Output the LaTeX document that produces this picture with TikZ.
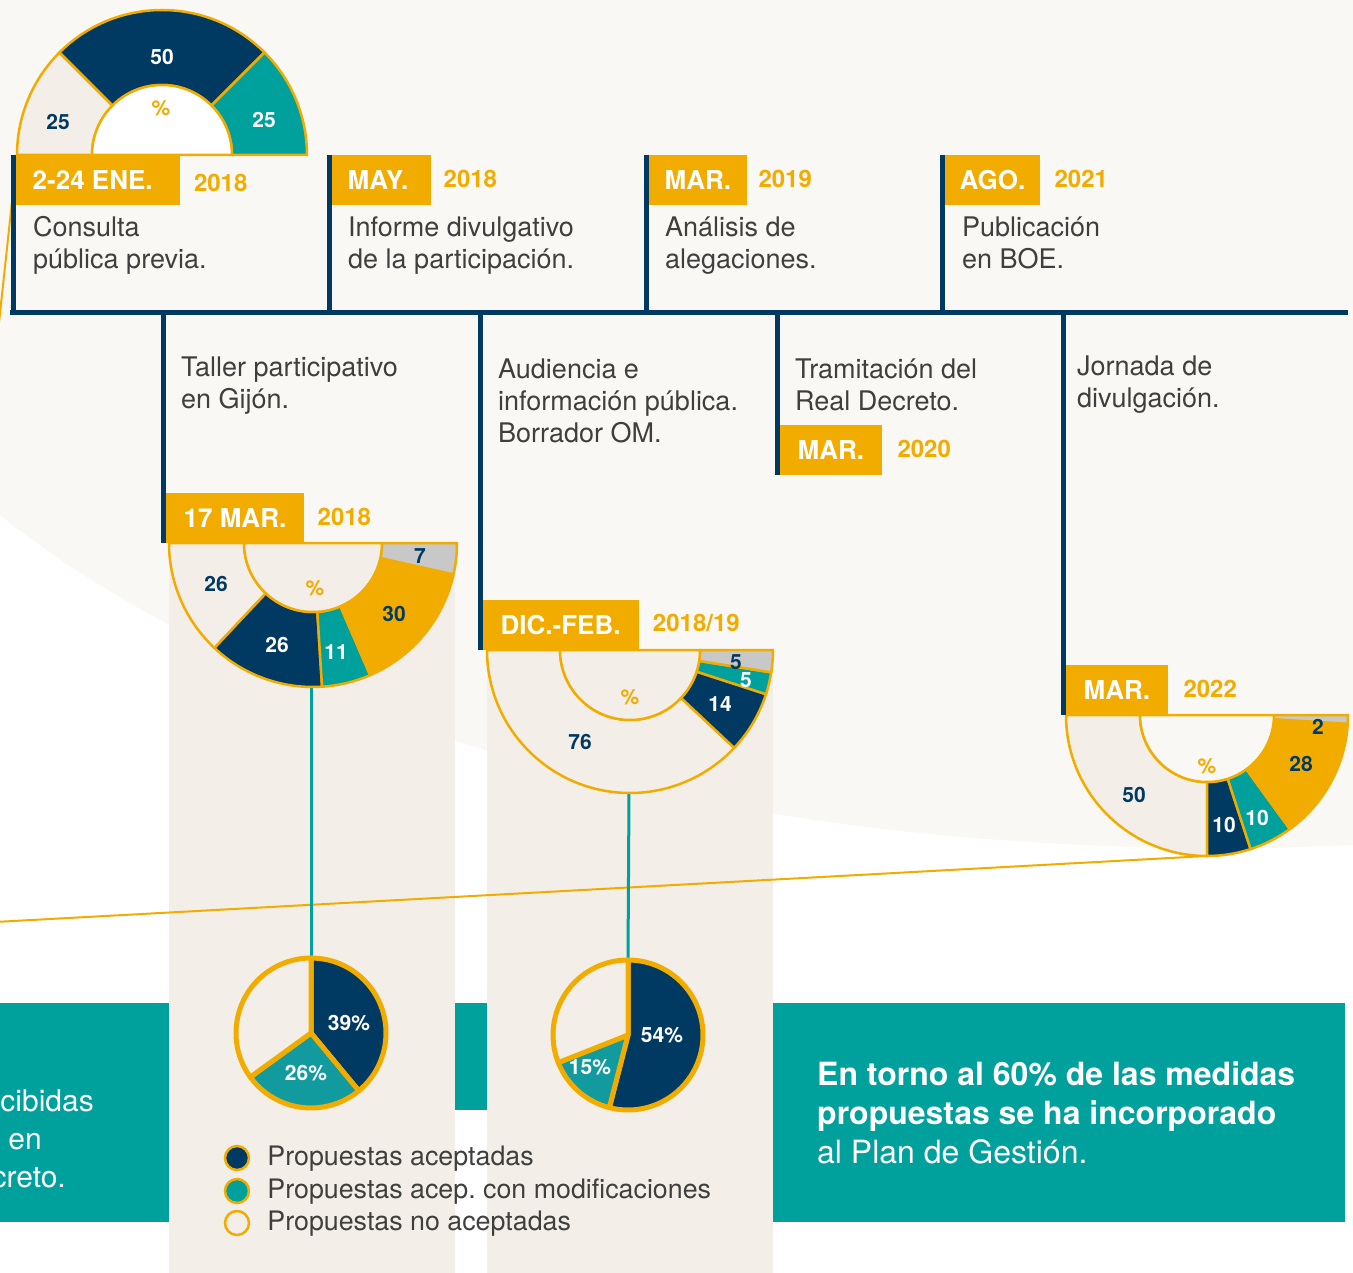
\documentclass[tikz,border=0pt]{standalone}
\usepackage{fontspec}
\setmainfont{TeX Gyre Heros}
\usepackage{tikz}
\usetikzlibrary{calc}
\definecolor{azul}{HTML}{003A63}
\definecolor{turquesa}{HTML}{00A09D}
\definecolor{turquesatarta}{HTML}{129B9F}
\definecolor{amarillo}{HTML}{F2AC00}
\definecolor{crema}{HTML}{F3EFE8}
\definecolor{gris}{HTML}{C8C8C8}
\definecolor{grisoscuro}{HTML}{3F3F3F}
\definecolor{fondo}{HTML}{F9F8F4}
\tikzstyle{fecha}=[rectangle,fill=amarillo,text=white,anchor=north west,
                   font=\fontsize{26}{26}\selectfont\bfseries,
                   inner xsep=18pt,inner ysep=0pt,minimum height=50pt]
\tikzstyle{anio}=[anchor=west,text=amarillo,inner sep=0pt,
                  font=\fontsize{24}{24}\selectfont\bfseries]
\tikzstyle{hito}=[anchor=base west,text=grisoscuro,inner sep=0pt,
                  font=\fontsize{27}{32}\selectfont]
\tikzstyle{eje}=[draw=azul,line width=5pt]
\tikzstyle{anillo}=[draw=amarillo,line width=2.5pt,line join=round]
\tikzstyle{tarta}=[draw=amarillo,line width=5pt,line join=round]
\tikzstyle{cifra}=[inner sep=0pt,font=\fontsize{21}{21}\selectfont\bfseries]
\tikzstyle{leyenda}=[anchor=west,text=grisoscuro,inner sep=0pt,
                     font=\fontsize{26.8}{26.8}\selectfont]
\tikzstyle{punto}=[circle,draw=amarillo,line width=2.5pt,minimum size=24pt,inner sep=0pt]
\tikzstyle{recuadro}=[text=white,inner sep=0pt,font=\fontsize{30}{38}\selectfont]
\newcommand\rotulo[2][14em]{\parbox[t]{#1}{\raggedright #2}}
\newcommand\segmento[6]{\filldraw[anillo,fill=#6] ($(#1)+(#4:#3)$)
    arc[start angle=#4,end angle=#5,radius=#3] -- ($(#1)+(#5:#2)$)
    arc[start angle=#5,end angle=#4,radius=#2] -- cycle;}
\newcommand\porcion[5]{\filldraw[tarta,fill=#5] (#1) -- ($(#1)+(#3:#2)$)
    arc[start angle=#3,end angle=#4,radius=#2] -- cycle;}

\begin{document}
\begin{tikzpicture}[x=1pt,y=-1pt]
	\useasboundingbox (0,0) rectangle (1353,1273);
	\fill[white] (0,0) rectangle (1353,1273);
	\fill[fondo] (0,0) -- (0,515) .. controls (280,740) and (800,870) .. (1353,845) -- (1353,0) -- cycle;
	\fill[turquesa] (0,1003) rectangle (169,1222);
	\fill[turquesa] (455,1003) rectangle (487,1110);
	\fill[turquesa] (773,1003) rectangle (1345,1222);
	\fill[crema] (169,543) rectangle (455,1273);
	\fill[crema] (487,650) rectangle (773,1273);

	\coordinate (g1) at (162,155);
	\coordinate (g2) at (313,543);
	\coordinate (g3) at (630,650);
	\coordinate (g4) at (1207,715);
	\node [circle,minimum size=150pt,inner sep=0pt] (t1) at (311,1033) {};
	\node [circle,minimum size=150pt,inner sep=0pt] (t2) at (628,1035) {};

	\coordinate (g1oeste) at ($(g1)+(180:145)$);
	\coordinate (finsup) at (-2,332);
	\coordinate (g4sur) at ($(g4)+(90:141)$);
	\coordinate (fininf) at (-5,922);
	\draw [amarillo,line width=2pt] (g1oeste) -- (finsup);
	\draw [amarillo,line width=2pt] (g4sur) -- (fininf);

	\coordinate (g2sur) at (311,688);
	\coordinate (g3sur) at (629,793);
	\draw [turquesa,line width=3pt] (g2sur) -- (t1.north);
	\draw [turquesa,line width=3pt] (g3sur) -- (t2.north);

	\segmento{g1}{70}{145}{180}{225}{crema}
	\segmento{g1}{70}{145}{225}{315}{azul}
	\segmento{g1}{70}{145}{315}{360}{turquesa}
	\filldraw [anillo,fill=white] ($(g1)+(180:70)$) arc[start angle=180,end angle=360,radius=70] -- cycle;

	\segmento{g2}{69}{144}{180}{133.2}{crema}
	\segmento{g2}{69}{144}{133.2}{86.4}{azul}
	\segmento{g2}{69}{144}{86.4}{66.6}{turquesa}
	\segmento{g2}{69}{144}{66.6}{12.6}{amarillo}
	\segmento{g2}{69}{144}{12.6}{0}{gris}
	\filldraw [anillo,fill=crema] ($(g2)+(180:69)$) arc[start angle=180,end angle=0,radius=69] -- cycle;

	\segmento{g3}{70}{143}{180}{43.2}{crema}
	\segmento{g3}{70}{143}{43.2}{18}{azul}
	\segmento{g3}{70}{143}{18}{9}{turquesa}
	\segmento{g3}{70}{143}{9}{0}{gris}
	\filldraw [anillo,fill=crema] ($(g3)+(180:70)$) arc[start angle=180,end angle=0,radius=70] -- cycle;

	\segmento{g4}{67}{141}{180}{90}{crema}
	\segmento{g4}{67}{141}{90}{72}{azul}
	\segmento{g4}{67}{141}{72}{54}{turquesa}
	\segmento{g4}{67}{141}{54}{3.6}{amarillo}
	\segmento{g4}{67}{141}{3.6}{0}{gris}
	\filldraw [anillo,fill=fondo] ($(g4)+(180:67)$) arc[start angle=180,end angle=0,radius=67] -- cycle;

	\porcion{t1.center}{75}{-90}{50.4}{azul}
	\porcion{t1.center}{75}{50.4}{144}{turquesatarta}
	\porcion{t1.center}{75}{144}{270}{crema}
	\porcion{t2.center}{75}{-90}{104.4}{azul}
	\porcion{t2.center}{75}{104.4}{158.4}{turquesatarta}
	\porcion{t2.center}{75}{158.4}{270}{crema}

	\node [cifra,text=azul] (g1a) at (58,122) {25};
	\node [cifra,text=white] (g1b) at (162,57) {50};
	\node [cifra,text=white] (g1c) at (264,120) {25};
	\node [cifra,text=amarillo] (g1p) at (161,108) {\%};
	\node [cifra,text=azul] (g2a) at (216,584) {26};
	\node [cifra,text=white] (g2b) at (277,645) {26};
	\node [cifra,text=white] (g2c) at (336,652) {11};
	\node [cifra,text=azul] (g2d) at (394,614) {30};
	\node [cifra,text=azul] (g2e) at (420,556) {7};
	\node [cifra,text=amarillo] (g2p) at (315,588) {\%};
	\node [cifra,text=azul] (g3a) at (580,742) {76};
	\node [cifra,text=white] (g3b) at (720,704) {14};
	\node [cifra,text=white] (g3c) at (746,680) {5};
	\node [cifra,text=azul] (g3d) at (736,662) {5};
	\node [cifra,text=amarillo] (g3p) at (630,697) {\%};
	\node [cifra,text=azul] (g4a) at (1134,795) {50};
	\node [cifra,text=white] (g4b) at (1224,825) {10};
	\node [cifra,text=white] (g4c) at (1257,818) {10};
	\node [cifra,text=azul] (g4d) at (1301,764) {28};
	\node [cifra,text=azul] (g4e) at (1318,727) {2};
	\node [cifra,text=amarillo] (g4p) at (1207,766) {\%};
	\node [cifra,text=white] (t1a) at (349,1023) {39\%};
	\node [cifra,text=white] (t1b) at (306,1073) {26\%};
	\node [cifra,text=white] (t2a) at (662,1035) {54\%};
	\node [cifra,text=white] (t2b) at (590,1067) {15\%};

	\coordinate (ejeoeste) at (10,313);
	\coordinate (ejeeste) at (1348,313);
	\coordinate (p1) at (13,155);
	\coordinate (p2) at (329,155);
	\coordinate (p3) at (646,155);
	\coordinate (p4) at (942,155);
	\coordinate (q1) at (163,543);
	\coordinate (q2) at (480,650);
	\coordinate (q3) at (777,475);
	\coordinate (q4) at (1063,715);
	\draw [eje] (ejeoeste) -- (ejeeste);
	\foreach \p in {p1,p2,p3,p4,q1,q2,q3,q4}
		\draw [eje] (\p) -- (\p |- ejeoeste);

	\node [fecha,inner xsep=17pt] (f1) at ($(p1)+(2.5,0)$) {2-24 ENE.\hspace*{10pt}};
	\node [fecha,inner xsep=16pt] (f2) at ($(p2)+(2.5,0)$) {MAY.\hspace*{7pt}};
	\node [fecha,inner xsep=16pt] (f3) at ($(p3)+(2.5,0)$) {MAR.};
	\node [fecha,inner xsep=15pt] (f4) at ($(p4)+(2.5,0)$) {AGO.};
	\node [fecha,anchor=south west] (f5) at ($(q1)+(2.5,0)$) {17 MAR.};
	\node [fecha,anchor=south west] (f6) at ($(q2)+(2.5,0)$) {DIC.-FEB.};
	\node [fecha,anchor=south west] (f7) at ($(q3)+(2.5,0)$) {MAR.};
	\node [fecha,anchor=south west] (f8) at ($(q4)+(2.5,0)$) {MAR.};
	\node [anio] (a1) at ($(f1.east)+(14,3)$) {2018};
	\node [anio] (a2) at ($(f2.east)+(12,-1)$) {2018};
	\node [anio] (a3) at ($(f3.east)+(11,-1)$) {2019};
	\node [anio] (a4) at ($(f4.east)+(14,-1)$) {2021};
	\node [anio] (a5) at ($(f5.east)+(13,-1)$) {2018};
	\node [anio] (a6) at ($(f6.east)+(14,-2)$) {2018/19};
	\node [anio] (a7) at ($(f7.east)+(15,-1)$) {2020};
	\node [anio] (a8) at ($(f8.east)+(15,-1)$) {2022};

	\node [hito] (d1) at (33,237) {\rotulo{Consulta\\pública previa.}};
	\node [hito] (d2) at (348,237) {\rotulo{Informe divulgativo\\de la participación.}};
	\node [hito] (d3) at (665,237) {\rotulo{Análisis de\\alegaciones.}};
	\node [hito] (d4) at (962,237) {\rotulo{Publicación\\en BOE.}};
	\node [hito] (d5) at (181,377) {\rotulo{Taller participativo\\en Gijón.}};
	\node [hito] (d6) at (498,379) {\rotulo{Audiencia e\\información pública.\\Borrador OM.}};
	\node [hito] (d7) at (795,379) {\rotulo{Tramitación del\\Real Decreto.}};
	\node [hito] (d8) at (1077,376) {\rotulo{Jornada de\\divulgación.}};

	\node [punto,fill=azul] (l1) at (237,1158) {};
	\node [punto,fill=turquesa] (l2) at (237,1191) {};
	\node [punto,fill=crema] (l3) at (237,1223) {};
	\node [leyenda] (lt1) at ($(l1.east)+(17,1)$) {Propuestas aceptadas};
	\node [leyenda] (lt2) at ($(l2.east)+(17,1)$) {Propuestas acep.\ con modificaciones};
	\node [leyenda] (lt3) at ($(l3.east)+(17,1)$) {Propuestas no aceptadas};

	\node [recuadro,anchor=base east] (r1) at (94,1111) {cibidas};
	\node [recuadro,anchor=base east] (r2) at (42,1149) {en};
	\node [recuadro,anchor=base east] (r3) at (66,1187) {creto.};
	\node [recuadro,anchor=base west,font=\fontsize{32}{39}\selectfont] (conclusion) at (817,1085) {
		\rotulo[30em]{\textbf{En torno al 60\% de las medidas}\\\textbf{propuestas se ha incorporado}\\al Plan de Gestión.}
	};
\end{tikzpicture}
\end{document}
